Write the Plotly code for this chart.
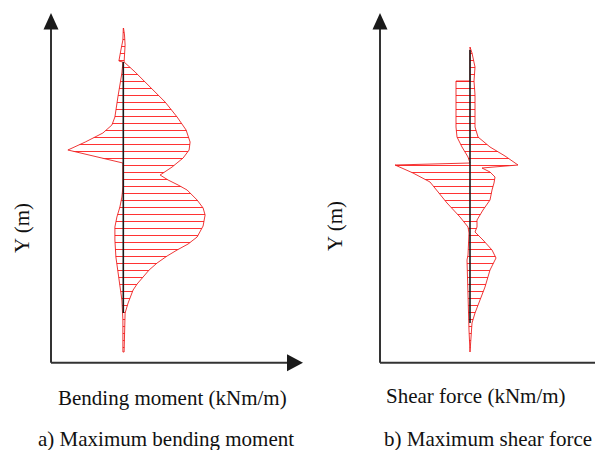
import plotly.graph_objects as go

# ---------------- data (elevation Y in m, forces in kN units) ----------------
# Bending moment envelope: maximum (right) side, top -> bottom
bm_max_y = [32.4, 31.7, 30.7, 29.7, 29.0, 28.0, 26.5, 25.0, 23.5, 22.2, 21.0, 20.2,
            19.4, 18.5, 17.7, 17.2, 16.7, 16.2, 15.2, 14.4, 13.7, 12.6, 11.5, 10.8,
            10.2, 9.6, 8.9, 8.2, 7.5, 6.8, 6.2, 5.5, 4.9, 3.9, 2.2, 0.0]
bm_max_v = [1, 6, 9, 6, 4, 59, 134, 209, 269, 314, 334, 329,
            299, 244, 184, 224, 274, 319, 369, 399, 409, 399, 369, 324,
            269, 219, 169, 129, 99, 69, 49, 34, 24, 9, 6, 4]
# Bending moment envelope: minimum (left) side, bottom -> top
bm_min_y = [0.0, 3.2, 5.2, 6.5, 7.9, 9.5, 11.2, 12.5, 13.5, 14.5, 15.5, 16.5,
            18.9, 20.2, 21.0, 21.9, 22.7, 23.5, 25.5, 27.9, 29.0, 29.1, 30.2, 31.2, 32.4]
bm_min_v = [-2, -2, -7, -17, -27, -37, -42, -42, -32, -17, -7, -2,
            -2, -277, -190, -102, -57, -42, -27, -7, -2, -22, -12, -2, 0]

# Shear force envelope: maximum side, top -> bottom
sf_max_y = [30.5, 29.9, 28.5, 27.1, 25.7, 22.5, 21.5, 20.5, 19.6, 18.7, 18.4, 18.0,
            17.5, 16.9, 16.2, 15.2, 14.2, 13.2, 12.5, 12.0, 11.2, 10.2, 9.4, 8.2,
            6.5, 5.2, 3.9, 2.9, 1.2, 0.0]
sf_max_v = [0, 4, 10, 8, 10, 10, 16, 40, 70, 96, 24, 40,
            50, 48, 44, 40, 26, 14, 14, 10, 26, 44, 52, 40,
            30, 20, 10, 4, 2, 0]
# Shear force envelope: minimum side, bottom -> top
sf_min_y = [0.0, 2.2, 5.2, 7.7, 9.2, 9.7, 11.2, 11.9, 12.5, 13.5, 14.9, 16.2,
            17.0, 17.9, 18.7, 18.9, 19.5, 20.5, 21.5, 22.5, 27.1, 27.1, 30.5]
sf_min_v = [0, -2, -4, -6, -6, -4, -2, -2, -4, -20, -46, -66,
            -80, -114, -150, 0, -4, -16, -26, -28, -28, 0, 0]

# Wall (pile) extents for each diagram
wall_bm_y = [29.0, 3.9]
wall_sf_y = [30.2, 2.9]

x_titles = ["Bending moment (kNm/m)", "Shear force (kNm/m)"]
captions = ["a) Maximum bending moment", "b) Maximum shear force"]
y_title = "Y (m)"

# ---------------- figure ----------------
W, H = 603, 450
OFF = 8  # page body margin offset of the rendered figure


def px(x):
    return (x - OFF) / W


def py(y):
    return 1 - (y - OFF) / H


RED_LINE = "rgba(235,20,20,0.85)"
pattern = dict(shape="-", fgcolor="rgba(255,0,0,0.8)", bgcolor="rgba(255,255,255,0)",
               size=7, solidity=0.15, fillmode="replace")

fig = go.Figure()

fig.add_trace(go.Scatter(
    x=bm_max_v + bm_min_v, y=bm_max_y + bm_min_y, xaxis="x", yaxis="y",
    mode="lines", line=dict(color=RED_LINE, width=1),
    fill="toself", fillcolor="rgba(0,0,0,0)", fillpattern=pattern,
    hoverinfo="skip", showlegend=False))
fig.add_trace(go.Scatter(
    x=sf_max_v + sf_min_v, y=sf_max_y + sf_min_y, xaxis="x2", yaxis="y",
    mode="lines", line=dict(color=RED_LINE, width=1),
    fill="toself", fillcolor="rgba(0,0,0,0)", fillpattern=pattern,
    hoverinfo="skip", showlegend=False))
# wall lines
fig.add_trace(go.Scatter(x=[0, 0], y=wall_bm_y, xaxis="x", yaxis="y", mode="lines",
                         line=dict(color="#1a1a1a", width=1.6), showlegend=False, hoverinfo="skip"))
fig.add_trace(go.Scatter(x=[0, 0], y=wall_sf_y, xaxis="x2", yaxis="y", mode="lines",
                         line=dict(color="#1a1a1a", width=1.6), showlegend=False, hoverinfo="skip"))

# axis ranges chosen so that zero lines sit at the wall positions
fig.update_layout(
    width=W, height=H, margin=dict(l=0, r=0, t=0, b=0),
    paper_bgcolor="white", plot_bgcolor="white",
    xaxis=dict(domain=[0, 0.5], range=[-576.5, 931], visible=False, anchor="y"),
    xaxis2=dict(domain=[0.5, 1], range=[-321, 282], visible=False, anchor="y"),
    yaxis=dict(domain=[0, 1], range=[-10.6, 34.4], visible=False),
    showlegend=False,
)

AX = "#333333"
shapes = []
for x0, xend, tip in [(51, 287, 303), (380, 595, 609)]:
    # vertical axis
    shapes.append(dict(type="line", xref="paper", yref="paper",
                       x0=px(x0), x1=px(x0), y0=py(362.7), y1=py(29),
                       line=dict(color=AX, width=2)))
    shapes.append(dict(type="path", xref="paper", yref="paper",
                       path=f"M{px(x0)},{py(13)} L{px(x0-7.5)},{py(29.5)} L{px(x0+7.5)},{py(29.5)} Z",
                       fillcolor="#1a1a1a", line=dict(width=0)))
    # horizontal axis
    shapes.append(dict(type="line", xref="paper", yref="paper",
                       x0=px(x0), x1=px(xend), y0=py(362.7), y1=py(362.7),
                       line=dict(color=AX, width=2)))
    shapes.append(dict(type="path", xref="paper", yref="paper",
                       path=f"M{px(tip)},{py(362.7)} L{px(xend)},{py(354.2)} L{px(xend)},{py(371.2)} Z",
                       fillcolor="#1a1a1a", line=dict(width=0)))
fig.update_layout(shapes=shapes)

FONT = dict(family="Liberation Serif, Times New Roman, serif", size=21, color="#111111")
ann = []
for (cx, cy), t in zip([(173, 398), (476, 396)], x_titles):
    ann.append(dict(x=px(cx), y=py(cy), xref="paper", yref="paper", text=t,
                    showarrow=False, font=FONT, xanchor="center", yanchor="middle"))
for (cx, cy), t in zip([(166, 439), (488, 439)], captions):
    ann.append(dict(x=px(cx), y=py(cy), xref="paper", yref="paper", text=t,
                    showarrow=False, font=FONT, xanchor="center", yanchor="middle"))
for cx, cy in [(22, 228), (335, 226)]:
    ann.append(dict(x=px(cx), y=py(cy), xref="paper", yref="paper", text=y_title,
                    showarrow=False, font=FONT, textangle=-90, xanchor="center", yanchor="middle"))
fig.update_layout(annotations=ann)

fig.write_html("out.html")
